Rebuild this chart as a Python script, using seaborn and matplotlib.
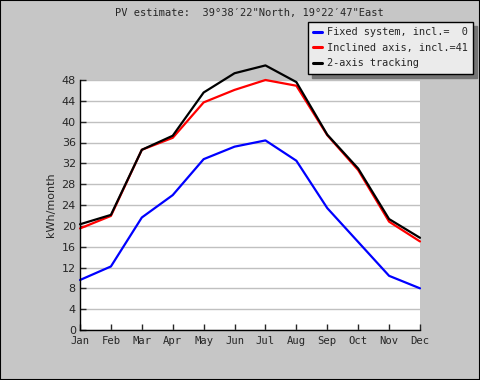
import numpy as np
import pandas as pd
import seaborn as sns
import matplotlib.pyplot as plt
from matplotlib.patches import Rectangle

months = ["Jan", "Feb", "Mar", "Apr", "May", "Jun", "Jul", "Aug", "Sep", "Oct", "Nov", "Dec"]
fixed = [9.6, 12.2, 21.6, 25.9, 32.8, 35.2, 36.4, 32.5, 23.4, 16.9, 10.4, 8.0]
inclined = [19.5, 21.9, 34.6, 36.9, 43.7, 46.1, 48.0, 46.9, 37.4, 30.7, 20.8, 17.0]
tracking = [20.3, 22.1, 34.6, 37.3, 45.6, 49.3, 50.8, 47.6, 37.5, 31.0, 21.3, 17.7]
labels = ["Fixed system, incl.=  0", "Inclined axis, incl.=41", "2-axis tracking"]
colors = ["#0000ff", "#ff0000", "#000000"]

df = pd.DataFrame({
    "month": np.tile(np.arange(len(months)), 3),
    "value": fixed + inclined + tracking,
    "series": np.repeat(labels, len(months)),
})

sns.set_style("white")
plt.rcParams["font.family"] = ["DejaVu Sans"]

fig = plt.figure(figsize=(4.8, 3.8), dpi=100, facecolor="#c6c6c6")
ax = fig.add_axes([80 / 480, 50 / 380, 340 / 480, 250 / 380])
ax.set_facecolor("white")

sns.lineplot(data=df, x="month", y="value", hue="series", palette=colors,
             linewidth=1.6, ax=ax, legend=False)
for line in ax.lines:
    line.set_clip_on(False)
    line.set_zorder(3)

ax.set_xlim(0, 11)
ax.set_ylim(0, 48)
ax.set_xticks(range(len(months)))
ax.set_xticklabels(months, fontfamily="DejaVu Sans Mono", fontsize=7.6)
ax.set_yticks(range(0, 49, 4))
ax.tick_params(axis="y", labelsize=8, direction="in", length=4, width=1, left=True, pad=3)
ax.tick_params(axis="x", direction="in", length=4, width=1, bottom=True, pad=4)
ax.yaxis.grid(True, color="#c0c0c0", linewidth=1)
ax.set_axisbelow(True)
for s in ["top", "right"]:
    ax.spines[s].set_visible(False)
for s in ["left", "bottom"]:
    ax.spines[s].set_color("black")
    ax.spines[s].set_linewidth(1)
    ax.spines[s].set_zorder(4)
ax.set_xlabel("")
ax.set_ylabel("kWh/month", fontsize=8, labelpad=4)

fig.text(249 / 480, 1 - 13 / 380, "PV estimate:  39\u00b038\u203222\"North, 19\u00b022\u203247\"East",
         ha="center", va="center", fontfamily="DejaVu Sans Mono", fontsize=7.5)

handles = [plt.Line2D([], [], color=c, linewidth=2.2) for c in colors]
leg = fig.legend(handles, labels, loc="upper right", bbox_to_anchor=(473 / 480, 1 - 22 / 380),
                 prop={"family": "DejaVu Sans Mono", "size": 7.4}, frameon=True, fancybox=False,
                 shadow={"color": "#747474", "alpha": 1, "ox": 3, "oy": -3},
                 handlelength=0.9, handletextpad=0.45, borderpad=0.5, labelspacing=0.55,
                 borderaxespad=0)
leg.get_frame().set_facecolor("#ebebeb")
leg.get_frame().set_edgecolor("black")
leg.get_frame().set_linewidth(1)
leg.get_frame().set_alpha(1)

fig.patches.append(Rectangle((0, 0), 1, 1, transform=fig.transFigure, fill=False,
                             edgecolor="black", linewidth=1.5, zorder=10))

fig.savefig("out.png", dpi=100, facecolor=fig.get_facecolor())
